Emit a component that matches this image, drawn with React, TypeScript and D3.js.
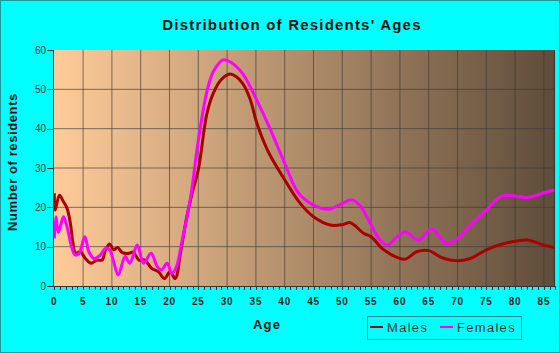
import React from "react";
import * as d3 from "d3";

const title = "Distribution of Residents' Ages";
const xLabel = "Age";
const yLabel = "Number of residents";
const seriesNames = ["Males", "Females"];
const seriesColors = ["#AA0000", "#FF00FF"];

const xTicks = [0, 5, 10, 15, 20, 25, 30, 35, 40, 45, 50, 55, 60, 65, 70, 75, 80, 85];
const yTicks = [0, 10, 20, 30, 40, 50, 60];

const maleAges = [0, 0.15, 0.9, 1.6, 2.2, 2.8, 3.2, 3.7, 4.5, 5.4, 6.4, 7.4, 8.3, 8.9, 9.6, 10.3, 11, 11.8, 13, 13.7, 14.7, 15.7, 16.9, 18.1, 19.1, 20.1, 21, 21.9, 23, 24, 25, 26.5, 27.6, 29, 30.5, 31.5, 32.7, 34, 35, 36, 37.3, 40, 42.7, 45, 47.9, 50, 51.4, 53.7, 55, 57.1, 59.5, 60.9, 62.9, 65, 67.3, 70, 72.2, 75, 78.1, 82.1, 85, 86.8];
const maleValues = [23.6, 19.3, 23.1, 21.4, 19.8, 15.9, 11.3, 8.3, 8.7, 7.0, 5.8, 6.6, 6.6, 9.2, 10.7, 9.2, 9.8, 8.5, 8.3, 8.6, 6.6, 6.6, 4.5, 3.6, 1.9, 3.6, 1.9, 8.3, 17.6, 24, 29.5, 43.9, 49, 52.5, 53.9, 53.3, 51.5, 47.5, 42.2, 38, 33.7, 27, 21, 17.6, 15.5, 15.6, 16.1, 13.4, 12.5, 9.3, 7.3, 6.8, 8.7, 9, 7.2, 6.4, 7, 9.2, 10.8, 11.7, 10.4, 9.8];

const femaleAges = [0, 0.3, 0.7, 1.6, 2.2, 3, 3.6, 4.3, 5.3, 6, 6.9, 8, 8.9, 9.6, 10.3, 11.1, 12.3, 13.1, 14.4, 15.5, 16.8, 17.9, 18.6, 19.6, 20.4, 21.2, 22.1, 23.6, 25, 26.5, 27.6, 29.3, 30.5, 32.7, 35, 37.3, 40, 42.4, 45, 47.6, 50, 51.7, 53.2, 55, 56.5, 57.8, 59.2, 60.9, 63.2, 65.5, 68.1, 70, 72.2, 75, 77.7, 80, 82.1, 85, 86.8];
const femaleValues = [12.1, 17.6, 13.6, 17.6, 15.1, 10, 7.9, 8.3, 12.5, 8.7, 7, 7.9, 9.6, 9.2, 6.2, 2.8, 7.5, 5.8, 10.4, 5.8, 8.3, 4.9, 4.1, 5.8, 3.2, 4.9, 10.9, 21.9, 37, 49.5, 54.5, 57.5, 57, 54, 47.7, 40.5, 31.2, 23.6, 20.6, 19.5, 21, 21.9, 20.2, 15.5, 11.8, 10.4, 12.1, 13.8, 11.7, 14.5, 10.8, 12.1, 15.5, 19.3, 22.9, 22.9, 22.5, 23.7, 24.4];

const W = 560;
const H = 353;
const plot = { left: 54, right: 555, top: 50, bottom: 286 };

export default function App() {
  const x = d3.scaleLinear().domain([0, 87]).range([plot.left + 0.3, plot.left + 0.3 + 87 * 5.76]);
  const y = d3.scaleLinear().domain([0, 60]).range([plot.bottom, plot.top]);
  const line = d3
    .line<[number, number]>()
    .x((d) => x(d[0]))
    .y((d) => y(d[1]))
    .curve(d3.curveCatmullRom.alpha(0.5));

  const males = maleAges.map((a, i) => [a, maleValues[i]] as [number, number]);
  const females = femaleAges.map((a, i) => [a, femaleValues[i]] as [number, number]);
  const minorTicks = d3.range(0, 88, 1);
  const font = "Arial, 'Liberation Sans', Helvetica, sans-serif";

  return (
    <svg
      width={W}
      height={H}
      style={{ position: "absolute", left: 0, top: 0, fontFamily: font }}
    >
      <defs>
        <linearGradient id="bg" x1="0" y1="0" x2="1" y2="0">
          <stop offset="0%" stopColor="#FFCC99" />
          <stop offset="100%" stopColor="#5E4C3A" />
        </linearGradient>
        <clipPath id="clip">
          <rect x={plot.left} y={plot.top - 4} width={plot.right - plot.left} height={plot.bottom - plot.top + 4} />
        </clipPath>
      </defs>
      <rect x={0.5} y={0.5} width={W - 1} height={H - 1} fill="#00FFFF" stroke="#1A9A9A" />
      <text x={292} y={30} textAnchor="middle" fontSize={15} fontWeight="bold" letterSpacing={1.2} fill="#111">
        {title}
      </text>
      <rect x={plot.left} y={plot.top} width={plot.right - plot.left} height={plot.bottom - plot.top} fill="url(#bg)" />
      {xTicks.slice(1).map((t) => (
        <line key={"gx" + t} x1={x(t)} x2={x(t)} y1={plot.top} y2={plot.bottom} stroke="#3a3a3a" strokeOpacity={0.65} />
      ))}
      {yTicks.slice(1, -1).map((t) => (
        <line key={"gy" + t} x1={plot.left} x2={plot.right} y1={y(t)} y2={y(t)} stroke="#3a3a3a" strokeOpacity={0.65} />
      ))}
      <line x1={plot.right - 0.5} x2={plot.right - 0.5} y1={plot.top} y2={plot.bottom} stroke="#333" />
      <g clipPath="url(#clip)">
        <path d={line(males) || ""} fill="none" stroke={seriesColors[0]} strokeWidth={3} strokeLinejoin="round" />
        <path d={line(females) || ""} fill="none" stroke={seriesColors[1]} strokeWidth={3} strokeLinejoin="round" />
      </g>
      {/* y axis */}
      <line x1={plot.left - 0.5} x2={plot.left - 0.5} y1={plot.top} y2={plot.bottom} stroke="#333" />
      {yTicks.map((t) => (
        <g key={"yt" + t}>
          <line x1={plot.left - 7} x2={plot.left} y1={Math.round(y(t)) + 0.5} y2={Math.round(y(t)) + 0.5} stroke="#333" />
          <text x={plot.left - 8} y={y(t) + 3.5} textAnchor="end" fontSize={10} fill="#333">
            {t}
          </text>
        </g>
      ))}
      {/* x axis */}
      <line x1={plot.left} x2={plot.right} y1={plot.bottom + 0.5} y2={plot.bottom + 0.5} stroke="#333" />
      {minorTicks.map((t) => (
        <line key={"xm" + t} x1={Math.round(x(t)) + 0.5} x2={Math.round(x(t)) + 0.5} y1={plot.bottom} y2={plot.bottom + 4} stroke="#333" />
      ))}
      {xTicks.map((t) => (
        <text key={"xt" + t} x={x(t)} y={305} textAnchor="middle" fontSize={10} fontWeight="bold" letterSpacing={0.8} fill="#222">
          {t}
        </text>
      ))}
      <text x={267} y={329} textAnchor="middle" fontSize={13} fontWeight="bold" letterSpacing={1.2} fill="#111">
        {xLabel}
      </text>
      <text
        transform={`translate(17,162) rotate(-90)`}
        textAnchor="middle"
        fontSize={13}
        fontWeight="bold"
        letterSpacing={0.6}
        fill="#111"
      >
        {yLabel}
      </text>
      {/* legend */}
      <rect x={367.5} y={316.5} width={154} height={23} fill="none" stroke="#1A8A8A" />
      {seriesNames.map((n, i) => (
        <g key={n} transform={`translate(${370 + i * 70},0)`}>
          <line x1={0} x2={13} y1={327} y2={327} stroke={seriesColors[i]} strokeWidth={2} />
          <text x={17} y={332} fontSize={13} letterSpacing={1.3} fill="#333">
            {n}
          </text>
        </g>
      ))}
    </svg>
  );
}
